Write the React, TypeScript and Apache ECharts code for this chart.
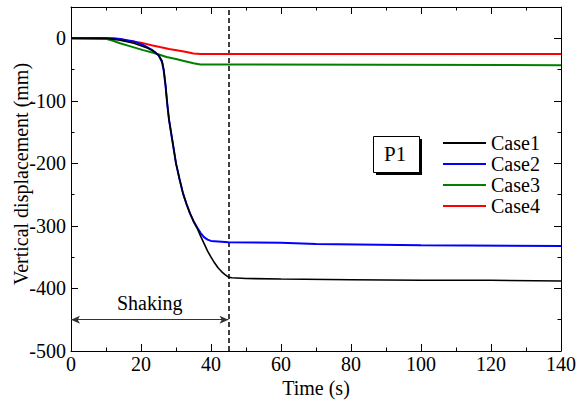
import React, { useEffect, useRef } from "react";
import * as echarts from "echarts";

const case1T = [0, 10, 14, 18, 22, 24, 25, 26, 26.5, 27, 27.5, 28, 29, 30, 31, 32, 33, 34, 35, 36, 37, 38, 39, 40, 41, 42, 43, 44, 45, 46, 50, 60, 80, 100, 120, 140];
const case1V = [0, 0, -3, -8, -16, -22, -27, -36, -50, -75, -105, -130, -165, -200, -225, -248, -265, -280, -293, -303, -316, -328, -340, -350, -359, -367, -373, -378, -382, -383, -384, -385, -386, -387, -387, -388];

const case2T = [0, 10, 14, 18, 20.7, 23, 25, 26, 26.5, 27, 27.5, 28, 29, 30, 31, 32, 33, 34, 35, 36, 37, 38, 39, 40, 45, 60, 70, 100, 140];
const case2V = [0, 0, -1, -5, -11, -18, -27, -38, -52, -75, -105, -130, -165, -200, -225, -248, -265, -280, -292, -302, -311, -318, -322, -324, -326, -327, -329, -331, -332];

const case3T = [0, 10, 12, 14, 17, 20.6, 24, 27.3, 30, 32, 35, 37, 45, 140];
const case3V = [0, -1, -4, -8, -13, -19, -24, -30, -33, -36, -40, -42, -42, -43];

const case4T = [0, 12, 14, 16, 20, 23, 25.4, 28, 31, 33, 35, 37, 140];
const case4V = [0, 0, -1, -4, -7, -11, -14, -17, -20, -22, -24.5, -25, -25];

const seriesNames = ["Case1", "Case2", "Case3", "Case4"];
const seriesColors = ["#000000", "#0000ff", "#008000", "#ff0000"];
const shakingEnd = 45;
const shakingLevel = -450;
const xTicks = { min: 0, max: 140, interval: 20 };
const yTicks = { min: -500, max: 50, interval: 100, minor: 50 };

const FONT = "Liberation Serif";
const FS = 20;

const pairs = (t: number[], v: number[]) => t.map((x, i) => [x, v[i]]);

export default function App() {
  const ref = useRef<HTMLDivElement>(null);
  useEffect(() => {
    if (!ref.current) return;
    const chart = echarts.init(ref.current, null, { renderer: "svg" });
    const axisLine = { show: true, onZero: false, lineStyle: { color: "#000", width: 1 } };
    const yBase = (pos: string, interval: number, len: number, labels: boolean, line: boolean) => ({
      type: "value",
      position: pos,
      min: yTicks.min,
      max: yTicks.max,
      interval,
      axisLine: line ? axisLine : { show: false, onZero: false },
      axisTick: { show: true, inside: true, length: len, lineStyle: { color: "#000" } },
      axisLabel: labels
        ? {
            show: true,
            fontFamily: FONT,
            fontSize: FS,
            color: "#000",
            margin: 5,
            formatter: (v: number) => (v > 0 ? "" : String(v)),
          }
        : { show: false },
      splitLine: { show: false },
      name: labels ? "Vertical displacement (mm)" : "",
      nameLocation: "middle",
      nameGap: 40,
      nameMoveOverlap: false,
      nameTextStyle: { fontFamily: FONT, fontSize: FS, color: "#000", padding: [0, 0, 0, 10] },
    });
    const xBase = (pos: string, labels: boolean) => ({
      type: "value",
      position: pos,
      min: xTicks.min,
      max: xTicks.max,
      interval: xTicks.interval,
      axisLine,
      axisTick: { show: true, inside: true, length: 7, lineStyle: { color: "#000" } },
      minorTick: { show: true, splitNumber: 2, length: 3.5, lineStyle: { color: "#000" } },
      axisLabel: labels
        ? { show: true, fontFamily: FONT, fontSize: FS, color: "#000", margin: 3 }
        : { show: false },
      splitLine: { show: false },
      name: labels ? "Time (s)" : "",
      nameLocation: "middle",
      nameGap: 27,
      nameMoveOverlap: false,
      nameTextStyle: { fontFamily: FONT, fontSize: FS, color: "#000" },
    });
    const datasets = [
      pairs(case1T, case1V),
      pairs(case2T, case2V),
      pairs(case3T, case3V),
      pairs(case4T, case4V),
    ];
    const series: any[] = datasets.map((d, i) => ({
      name: seriesNames[i],
      type: "line",
      data: d,
      showSymbol: false,
      symbol: "none",
      lineStyle: { color: seriesColors[i], width: i === 0 ? 1.6 : 2 },
      itemStyle: { color: seriesColors[i] },
      xAxisIndex: 0,
      yAxisIndex: 0,
      z: 10 - i,
    }));
    series[0].markLine = {
      silent: true,
      symbol: "none",
      label: { show: false },
      lineStyle: { type: [5, 3], color: "#000", width: 1.5 },
      data: [{ xAxis: shakingEnd }],
    };
    series[1].markLine = {
      silent: true,
      symbol: ["arrow", "arrow"],
      symbolSize: [6, 9],
      label: {
        show: true,
        position: "insideMiddleTop",
        formatter: "Shaking",
        fontFamily: FONT,
        fontSize: FS,
        color: "#000",
        distance: 7,
      },
      lineStyle: { type: "solid", color: "#333", width: 1 },
      data: [[{ coord: [0, shakingLevel] }, { coord: [shakingEnd, shakingLevel] }]],
    };
    chart.setOption({
      animation: false,
      backgroundColor: "#fff",
      grid: { left: 71, right: 16, top: 7, bottom: 55, containLabel: false, outerBoundsMode: "none" },
      xAxis: [xBase("bottom", true), xBase("top", false)],
      yAxis: [
        yBase("left", yTicks.interval, 7, true, true),
        yBase("left", yTicks.minor, 3.5, false, false),
        yBase("right", yTicks.interval, 7, false, true),
        yBase("right", yTicks.minor, 3.5, false, false),
      ],
      legend: {
        show: true,
        orient: "vertical",
        left: 443,
        top: 133,
        padding: 0,
        icon: "rect",
        itemWidth: 43,
        itemHeight: 2,
        itemGap: 1,
        textStyle: { fontFamily: FONT, fontSize: FS, color: "#000", lineHeight: 18 },
        data: seriesNames,
      },
      graphic: [
        { type: "rect", left: 376, top: 139, shape: { width: 46, height: 36 }, style: { fill: "#000" }, z: 100 },
        {
          type: "rect",
          left: 373,
          top: 136,
          shape: { width: 46, height: 36 },
          style: { fill: "#fff", stroke: "#000", lineWidth: 1 },
          z: 101,
        },
        {
          type: "text",
          left: 384,
          top: 143,
          style: { text: "P1", font: `21px ${FONT}`, fill: "#000" },
          z: 102,
        },
      ],
      series,
    });
    return () => chart.dispose();
  }, []);
  return <div ref={ref} style={{ width: 577, height: 406, position: "absolute", left: 0, top: 0 }} />;
}
